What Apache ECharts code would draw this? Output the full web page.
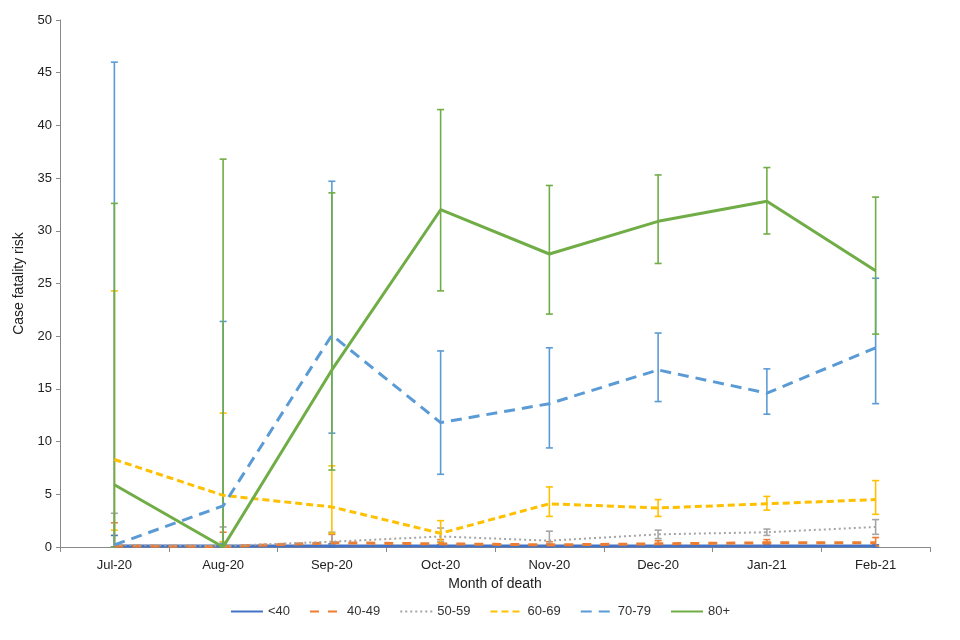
<!DOCTYPE html>
<html>
<head>
<meta charset="utf-8">
<script src="https://cdn.jsdelivr.net/npm/echarts@6/dist/echarts.min.js"></script>
<style>html,body{margin:0;padding:0;background:#fff}#c{width:960px;height:640px}</style>
</head>
<body>
<div id="c"></div>
<script>
var categories = ['Jul-20','Aug-20','Sep-20','Oct-20','Nov-20','Dec-20','Jan-21','Feb-21'];
var yTicks = [0,5,10,15,20,25,30,35,40,45,50];
var names = ['<40','40-49','50-59','60-69','70-79','80+'];

var v40 = [0.1, 0.1, 0.1, 0.1, 0.1, 0.1, 0.1, 0.1];
var lo40 = [0, 0, 0, 0, 0, 0, 0, 0];
var hi40 = [1.1, 0.5, 0.3, 0.2, 0.2, 0.2, 0.2, 0.2];

var v4049 = [0.1, 0.05, 0.4, 0.3, 0.2, 0.3, 0.4, 0.4];
var lo4049 = [0, 0, 0.1, 0.1, 0.1, 0.1, 0.2, 0.1];
var hi4049 = [2.3, 1.4, 1.2, 0.7, 0.5, 0.6, 0.7, 0.9];

var v5059 = [0.2, 0.1, 0.5, 1.0, 0.6, 1.2, 1.4, 1.9];
var lo5059 = [0, 0, 0.2, 0.5, 0.3, 0.8, 1.1, 1.2];
var hi5059 = [3.2, 1.9, 1.4, 1.8, 1.5, 1.6, 1.7, 2.6];

var v6069 = [8.3, 4.9, 3.8, 1.3, 4.1, 3.7, 4.1, 4.5];
var lo6069 = [1.6, 0.5, 1.3, 0.4, 2.9, 2.9, 3.5, 3.1];
var hi6069 = [24.3, 12.7, 7.7, 2.5, 5.7, 4.5, 4.8, 6.3];

var v7079 = [0.2, 3.9, 20.1, 11.8, 13.6, 16.8, 14.6, 18.9];
var lo7079 = [0, 0.3, 10.8, 6.9, 9.4, 13.8, 12.6, 13.6];
var hi7079 = [46.0, 21.4, 34.7, 18.6, 18.9, 20.3, 16.9, 25.5];

var v80 = [5.9, 0, 16.8, 32.0, 27.8, 30.9, 32.8, 26.2];
var lo80 = [0, 0, 7.3, 24.3, 22.1, 26.9, 29.7, 20.2];
var hi80 = [32.6, 36.8, 33.6, 41.5, 34.3, 35.3, 36.0, 33.2];

var colors = ['#4472C4','#ED7D31','#A5A5A5','#FFC000','#5B9BD5','#70AD47'];
var lineStyles = [
  {width: 3, type: 'solid'},
  {width: 3, type: [9, 9]},
  {width: 2, type: [2, 3]},
  {width: 3, type: [7, 4]},
  {width: 3, type: [11, 7]},
  {width: 3, type: 'solid'}
];
var values = [v40, v4049, v5059, v6069, v7079, v80];
var lows = [lo40, lo4049, lo5059, lo6069, lo7079, lo80];
var highs = [hi40, hi4049, hi5059, hi6069, hi7079, hi80];

var series = [];
for (var s = 0; s < 6; s++) {
  (function(s){
    var d = categories.map(function(c, i){ return [i, lows[s][i], highs[s][i]]; });
    series.push({
      type: 'custom',
      name: 'err' + s,
      z: 2,
      silent: true,
      renderItem: function(params, api) {
        var x = api.value(0);
        var p1 = api.coord([x, api.value(1)]);
        var p2 = api.coord([x, api.value(2)]);
        var hw = 3.5;
        var st = {stroke: colors[s], lineWidth: 1.6};
        return {
          type: 'group',
          children: [
            {type: 'line', shape: {x1: p1[0], y1: p1[1], x2: p2[0], y2: p2[1]}, style: st},
            {type: 'line', shape: {x1: p1[0]-hw, y1: p1[1], x2: p1[0]+hw, y2: p1[1]}, style: st},
            {type: 'line', shape: {x1: p2[0]-hw, y1: p2[1], x2: p2[0]+hw, y2: p2[1]}, style: st}
          ]
        };
      },
      encode: {x: 0, y: [1, 2]},
      data: d
    });
  })(s);
}
for (var s = 0; s < 6; s++) {
  series.push({
    type: 'line',
    name: names[s],
    data: values[s],
    symbol: 'none',
    showSymbol: false,
    z: 3,
    lineStyle: Object.assign({color: colors[s]}, lineStyles[s]),
    itemStyle: {color: colors[s]}
  });
}

var chart = echarts.init(document.getElementById('c'));
chart.setOption({
  animation: false,
  textStyle: {fontFamily: 'Liberation Sans, Arial, sans-serif'},
  grid: {left: 60, right: 30, top: 20, bottom: 93},
  legend: {
    data: names,
    top: 600,
    left: 'center',
    itemWidth: 32,
    itemHeight: 14,
    itemGap: 19,
    itemStyle: {opacity: 0},
    textStyle: {fontSize: 13, color: '#333', fontFamily: 'Liberation Sans, Arial, sans-serif'}
  },
  xAxis: {
    type: 'category',
    data: categories,
    boundaryGap: true,
    name: 'Month of death',
    nameLocation: 'middle',
    nameGap: 28,
    nameTextStyle: {fontSize: 14, color: '#222'},
    axisLine: {lineStyle: {color: '#898989', width: 1}},
    axisTick: {show: true, length: 5, lineStyle: {color: '#898989'}},
    axisLabel: {fontSize: 13, color: '#222', margin: 12}
  },
  yAxis: {
    type: 'value',
    min: 0,
    max: 50,
    interval: 5,
    name: 'Case fatality risk',
    nameLocation: 'middle',
    nameGap: 34,
    nameTextStyle: {fontSize: 14, color: '#222'},
    axisLine: {show: true, lineStyle: {color: '#898989', width: 1}},
    axisTick: {show: true, length: 4, lineStyle: {color: '#898989'}},
    splitLine: {show: false},
    axisLabel: {fontSize: 13, color: '#222', margin: 8}
  },
  series: series
});
</script>
</body>
</html>
